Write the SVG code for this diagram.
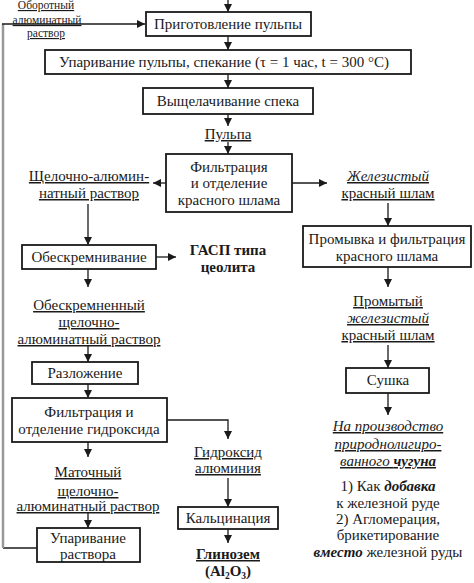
<svg xmlns="http://www.w3.org/2000/svg" width="474" height="583" viewBox="0 0 474 583" font-family="'Liberation Serif', 'Times New Roman', Times, serif">
<style>
text{font-family:"Liberation Serif","Times New Roman",Times,serif;font-size:15px;fill:#1a1a1a;text-anchor:middle}
.s{font-size:11.5px}
.u{text-decoration:underline}
.i{font-style:italic}
.b{font-weight:bold}
rect{fill:#fff;stroke:#1a1a1a;stroke-width:1.8}
#connectors path{fill:none;stroke:#1a1a1a;stroke-width:1.3}
</style>
<defs>
<marker id="a" markerUnits="userSpaceOnUse" markerWidth="8" markerHeight="8" refX="8" refY="4" orient="auto">
<path d="M0,0 L8,4 L0,8 z" fill="#1a1a1a"/>
</marker>
</defs>
<rect x="0" y="0" width="474" height="583" style="fill:#fff;stroke:none"/>
<g id="connectors">
<path d="M228,0 V12" marker-end="url(#a)"/>
<path d="M228,36 V50" marker-end="url(#a)"/>
<path d="M228,74 V88" marker-end="url(#a)"/>
<path d="M228,114 V126" marker-end="url(#a)"/>
<path d="M228,142 V154" marker-end="url(#a)"/>
<path d="M166,183 H153" marker-end="url(#a)"/>
<path d="M292,183 H327" marker-end="url(#a)"/>
<path d="M88,204 V245" marker-end="url(#a)"/>
<path d="M156,257 H176" marker-end="url(#a)"/>
<path d="M88,269 V287" marker-end="url(#a)"/>
<path d="M88,346 V362" marker-end="url(#a)"/>
<path d="M88,384 V398" marker-end="url(#a)"/>
<path d="M167,420 H228 V439" marker-end="url(#a)"/>
<path d="M228,478 V507" marker-end="url(#a)"/>
<path d="M228,529 V543" marker-end="url(#a)"/>
<path d="M88,442 V457" marker-end="url(#a)"/>
<path d="M88,513 V528" marker-end="url(#a)"/>
<path d="M37,548 H3"/>
<path d="M3,548 V24" style="stroke:#999;stroke-width:2.5"/>
<path d="M2,24 H145" marker-end="url(#a)"/>
<path d="M388,203 V226" marker-end="url(#a)"/>
<path d="M388,267 V287" marker-end="url(#a)"/>
<path d="M388,345 V368" marker-end="url(#a)"/>
<path d="M388,393 V415" marker-end="url(#a)"/>
</g>
<g id="recycle-label">
<text class="s u" x="46" y="9">Оборотный</text>
<text class="s u" x="47" y="24">алюминатный</text>
<text class="s u" x="46" y="37">раствор</text>
</g>
<g id="n1"><rect x="146" y="12" width="165" height="24"/><text x="228" y="29">Приготовление пульпы</text></g>
<g id="n2"><rect x="45" y="50" width="366" height="24"/><text x="224" y="67">Упаривание пульпы, спекание (τ = 1 час, t = 300 °C)</text></g>
<g id="n3"><rect x="143" y="88" width="170" height="26"/><text x="228" y="106">Выщелачивание спека</text></g>
<g id="pulp"><text class="u" x="228" y="139">Пульпа</text></g>
<g id="n4"><rect x="166" y="154" width="126" height="58"/>
<text x="229" y="172">Фильтрация</text><text x="229" y="188">и отделение</text><text x="229" y="205">красного шлама</text></g>
<g id="sol1"><text class="u" x="89" y="181">Щелочно-алюмин-</text><text class="u" x="89" y="198">натный раствор</text></g>
<g id="mud1"><text class="u i" x="388" y="181">Железистый</text><text class="u" x="388" y="198">красный шлам</text></g>
<g id="n5"><rect x="22" y="245" width="134" height="24"/><text x="89" y="262">Обескремнивание</text></g>
<g id="gasp"><text class="b" x="228" y="255">ГАСП типа</text><text class="b" x="228" y="272">цеолита</text></g>
<g id="n6"><rect x="303" y="226" width="168" height="41"/><text x="387" y="244">Промывка и фильтрация</text><text x="387" y="261">красного шлама</text></g>
<g id="sol2"><text class="u" x="89" y="310">Обескремненный</text><text class="u" x="89" y="327">щелочно-</text><text class="u" x="89" y="344">алюминатный раствор</text></g>
<g id="mud2"><text class="u" x="388" y="306">Промытый</text><text class="u i" x="388" y="323">железистый</text><text class="u" x="388" y="340">красный шлам</text></g>
<g id="n7"><rect x="32" y="362" width="106" height="22"/><text x="85" y="378">Разложение</text></g>
<g id="n8"><rect x="346" y="368" width="83" height="25"/><text x="388" y="385">Сушка</text></g>
<g id="n9"><rect x="12" y="398" width="155" height="44"/><text x="89" y="417">Фильтрация и</text><text x="89" y="434">отделение гидроксида</text></g>
<g id="use"><text class="u i" x="388" y="431">На производство</text><text class="u i" x="388" y="449">природнолигиро-</text><text class="u" x="388" y="466"><tspan class="i">ванного </tspan><tspan class="i b">чугуна</tspan></text>
<text x="388" y="491">1) Как <tspan class="i b">добавка</tspan></text><text x="388" y="508">к железной руде</text><text x="388" y="524">2) Агломерация,</text><text x="388" y="540">брикетирование</text><text x="388" y="557"><tspan class="i b">вместо</tspan> железной руды</text></g>
<g id="hydr"><text class="u" x="228" y="457">Гидроксид</text><text class="u" x="228" y="473">алюминия</text></g>
<g id="mother"><text class="u" x="88" y="477">Маточный</text><text class="u" x="88" y="496">щелочно-</text><text class="u" x="88" y="511">алюминатный раствор</text></g>
<g id="n10"><rect x="178" y="507" width="100" height="22"/><text x="228" y="523">Кальцинация</text></g>
<g id="n11"><rect x="37" y="528" width="103" height="34"/><text x="88" y="543">Упаривание</text><text x="88" y="559">раствора</text></g>
<g id="alumina"><text class="b u" x="228" y="559">Глинозем</text><text class="b" x="228" y="576" font-size="14">(Al<tspan dy="2.5" font-size="9.5">2</tspan><tspan dy="-2.5">O</tspan><tspan dy="2.5" font-size="9.5">3</tspan><tspan dy="-2.5">)</tspan></text></g>
</svg>
